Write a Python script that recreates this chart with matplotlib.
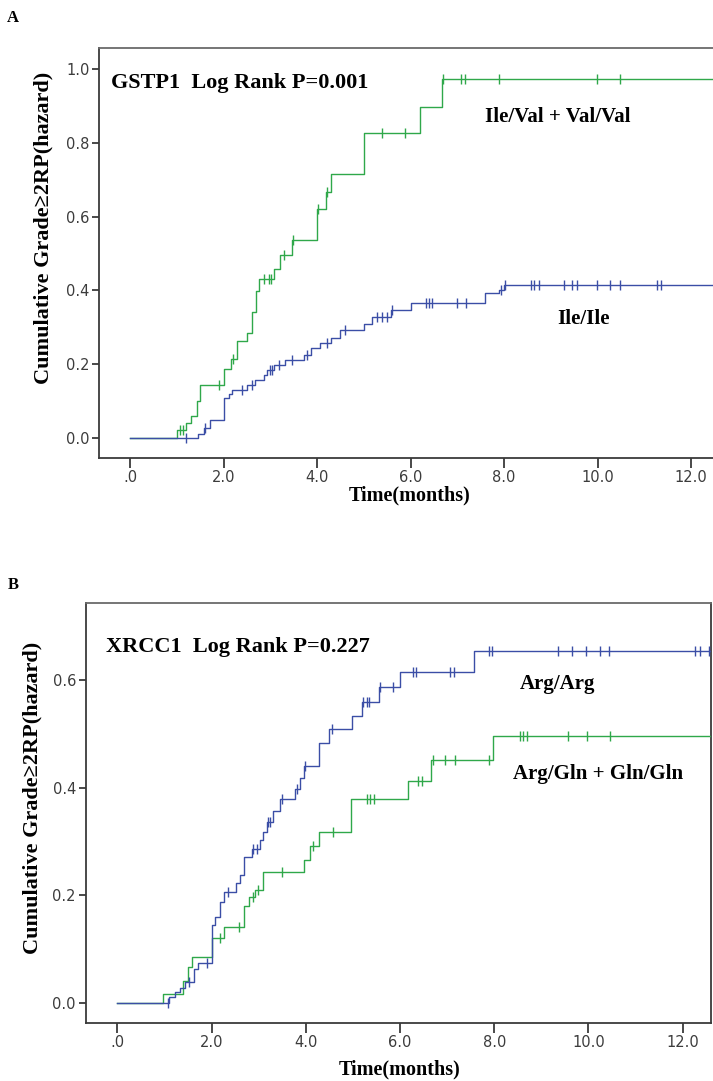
"""
plot.py
Curvas de risco cumulativo (Kaplan-Meier) para GSTP1 e XRCC1
"""

import numpy as np
import matplotlib
matplotlib.use("Agg")
import matplotlib.pyplot as plt

# ---------------------------------------------------------------------------
# Dados
# ---------------------------------------------------------------------------

# Painel A - GSTP1, Ile/Val + Val/Val
gstp1_val_times = [0.0, 1.01, 1.20, 1.30, 1.42, 1.49, 2.00, 2.16, 2.29, 2.50, 2.61,
                   2.69, 2.76, 3.07, 3.21, 3.46, 4.00, 4.18, 4.29, 5.01, 6.20, 6.68]
gstp1_val_cum = [0.0, 0.020, 0.040, 0.059, 0.100, 0.144, 0.188, 0.215, 0.262, 0.285,
                 0.342, 0.399, 0.430, 0.459, 0.496, 0.536, 0.620, 0.668, 0.717, 0.828,
                 0.898, 0.973]
gstp1_val_censored = [1.07, 1.14, 1.89, 2.21, 2.86, 2.98, 3.02, 3.29, 3.48, 4.02, 4.21,
                      5.39, 5.89, 6.70, 7.07, 7.16, 7.89, 9.99, 10.48]

# Painel A - GSTP1, Ile/Ile
gstp1_ile_times = [0.0, 1.45, 1.58, 1.71, 2.00, 2.11, 2.18, 2.50, 2.68, 2.86, 2.93,
                   3.07, 3.32, 3.71, 3.86, 4.07, 4.29, 4.49, 5.00, 5.18, 5.57, 6.00,
                   7.59, 7.90, 8.00]
gstp1_ile_cum = [0.0, 0.011, 0.026, 0.048, 0.107, 0.120, 0.131, 0.143, 0.157, 0.170,
                 0.184, 0.197, 0.211, 0.224, 0.243, 0.256, 0.270, 0.292, 0.309, 0.327,
                 0.347, 0.366, 0.392, 0.402, 0.415]
gstp1_ile_censored = [1.20, 1.61, 2.39, 2.61, 3.00, 3.04, 3.18, 3.46, 3.79, 4.21, 4.59,
                      5.29, 5.39, 5.50, 5.61, 6.32, 6.39, 6.46, 6.99, 7.18, 7.94, 8.02,
                      8.58, 8.65, 8.74, 9.29, 9.46, 9.55, 9.99, 10.27, 10.48, 11.27, 11.36]
gstp1_follow_up_end = 12.6

# Painel B - XRCC1, Arg/Arg
xrcc1_arg_times = [0.0, 1.10, 1.23, 1.33, 1.44, 1.63, 1.72, 2.00, 2.07, 2.17, 2.27,
                   2.52, 2.61, 2.69, 2.85, 3.02, 3.09, 3.17, 3.31, 3.45, 3.77, 3.88,
                   3.96, 4.29, 4.50, 4.98, 5.19, 5.56, 5.99, 7.56]
xrcc1_arg_cum = [0.0, 0.010, 0.019, 0.027, 0.039, 0.062, 0.073, 0.145, 0.160, 0.188,
                 0.205, 0.223, 0.238, 0.271, 0.286, 0.303, 0.318, 0.337, 0.356, 0.379,
                 0.397, 0.418, 0.440, 0.484, 0.509, 0.533, 0.559, 0.587, 0.616, 0.654]
xrcc1_arg_censored = [1.08, 1.53, 1.90, 2.36, 2.89, 2.96, 3.19, 3.25, 3.49, 3.81, 3.98,
                      4.55, 5.22, 5.29, 5.35, 5.58, 5.86, 6.28, 6.34, 7.07, 7.15, 7.88,
                      7.95, 9.36, 9.65, 9.95, 10.25, 10.44, 12.27, 12.36, 12.55]

# Painel B - XRCC1, Arg/Gln + Gln/Gln
xrcc1_gln_times = [0.0, 0.97, 1.40, 1.50, 1.58, 2.00, 2.27, 2.69, 2.80, 2.93, 3.10,
                   3.96, 4.09, 4.29, 4.96, 6.16, 6.66, 7.98]
xrcc1_gln_cum = [0.0, 0.016, 0.040, 0.066, 0.084, 0.121, 0.140, 0.179, 0.197, 0.210,
                 0.244, 0.266, 0.292, 0.318, 0.379, 0.413, 0.451, 0.497]
xrcc1_gln_censored = [2.19, 2.59, 2.87, 2.99, 3.49, 4.16, 4.57, 5.29, 5.37, 5.45, 6.39,
                      6.46, 6.70, 6.96, 7.17, 7.88, 8.55, 8.62, 8.69, 9.57, 9.96, 10.45]
xrcc1_follow_up_end = 12.7

x_ticks = [0, 2, 4, 6, 8, 10, 12]
x_tick_labels = [".0", "2.0", "4.0", "6.0", "8.0", "10.0", "12.0"]

GREEN = "#2fa84a"
BLUE = "#3b4ea6"
SERIF = "Liberation Serif"
TICK_COLOR = "#3c3c3c"


def draw_curve(ax, times, cum, censored, end, color):
    """Desenha a curva em degraus e as marcas de censura."""
    times = np.asarray(times)
    cum = np.asarray(cum)
    ax.step(np.r_[times, end], np.r_[cum, cum[-1]], where="post",
            color=color, lw=1.0, zorder=3)
    # nível da curva em cada tempo censurado
    idx = np.searchsorted(times, censored, side="right") - 1
    ax.plot(censored, cum[idx], linestyle="none", marker="|",
            markersize=7, markeredgewidth=1.0, color=color, zorder=4)


def style_axes(ax, y_ticks, y_labels):
    """Aplica o estilo SPSS aos eixos."""
    for side in ["left", "bottom", "top", "right"]:
        ax.spines[side].set_color("#3a3a3a")
        ax.spines[side].set_linewidth(1.3)
    ax.spines["top"].set_color("#6a6a6a")
    ax.set_xticks(x_ticks)
    ax.set_xticklabels(x_tick_labels)
    ax.set_yticks(y_ticks)
    ax.set_yticklabels(y_labels)
    ax.tick_params(axis="x", length=7, width=1.3, pad=2, colors="#3a3a3a",
                   labelcolor=TICK_COLOR, labelsize=10.5)
    ax.tick_params(axis="y", length=5, width=1.3, pad=2, colors="#3a3a3a",
                   labelcolor=TICK_COLOR, labelsize=10.5)


fig = plt.figure(figsize=(7.13, 10.81), dpi=100)

# ---------------------------------------------------------------------------
# Painel A
# ---------------------------------------------------------------------------
ax_a = fig.add_axes([0.1393, 0.5766, 0.8607, 0.3787])
draw_curve(ax_a, gstp1_val_times, gstp1_val_cum, gstp1_val_censored,
           gstp1_follow_up_end, GREEN)
draw_curve(ax_a, gstp1_ile_times, gstp1_ile_cum, gstp1_ile_censored,
           gstp1_follow_up_end, BLUE)
ax_a.set_xlim(-0.66, 12.47)
ax_a.set_ylim(-0.054, 1.057)
style_axes(ax_a, [0, 0.2, 0.4, 0.6, 0.8, 1.0],
           ["0.0", "0.2", "0.4", "0.6", "0.8", "1.0"])
ax_a.spines["right"].set_visible(False)

ax_a.text(-0.40, 0.963, "GSTP1  Log Rank P=0.001", family=SERIF,
          fontweight="bold", fontsize=16, ha="left", va="center")
ax_a.text(9.15, 0.870, "Ile/Val + Val/Val", family=SERIF, fontweight="bold",
          fontsize=15, ha="center", va="center")
ax_a.text(9.70, 0.322, "Ile/Ile", family=SERIF, fontweight="bold",
          fontsize=15, ha="center", va="center")

# ---------------------------------------------------------------------------
# Painel B
# ---------------------------------------------------------------------------
ax_b = fig.add_axes([0.1202, 0.0537, 0.8770, 0.3885])
draw_curve(ax_b, xrcc1_gln_times, xrcc1_gln_cum, xrcc1_gln_censored,
           xrcc1_follow_up_end, GREEN)
draw_curve(ax_b, xrcc1_arg_times, xrcc1_arg_cum, xrcc1_arg_censored,
           xrcc1_follow_up_end, BLUE)
ax_b.set_xlim(-0.67, 12.6)
ax_b.set_ylim(-0.038, 0.744)
style_axes(ax_b, [0, 0.2, 0.4, 0.6], ["0.0", "0.2", "0.4", "0.6"])

ax_b.text(-0.24, 0.662, "XRCC1  Log Rank P=0.227", family=SERIF,
          fontweight="bold", fontsize=16, ha="left", va="center")
ax_b.text(9.35, 0.593, "Arg/Arg", family=SERIF, fontweight="bold",
          fontsize=15, ha="center", va="center")
ax_b.text(10.2, 0.426, "Arg/Gln + Gln/Gln", family=SERIF, fontweight="bold",
          fontsize=15, ha="center", va="center")

# ---------------------------------------------------------------------------
# Rótulos de eixo e letras dos painéis
# ---------------------------------------------------------------------------
W, H = 713.0, 1081.0
ylabel_kw = dict(family=SERIF, fontweight="bold", fontsize=16)
xlabel_kw = dict(family=SERIF, fontweight="bold", fontsize=14.5)
fig.text(43 / W, 1 - 228 / H, "Cumulative Grade≥2RP(hazard)", rotation=90,
         ha="center", va="center", **ylabel_kw)
fig.text(32 / W, 1 - 798 / H, "Cumulative Grade≥2RP(hazard)", rotation=90,
         ha="center", va="center", **ylabel_kw)
fig.text(410 / W, 1 - 495 / H, "Time(months)", ha="center", va="center", **xlabel_kw)
fig.text(400 / W, 1 - 1069 / H, "Time(months)", ha="center", va="center", **xlabel_kw)
fig.text(13 / W, 1 - 18 / H, "A", family=SERIF, fontweight="bold", fontsize=12,
         ha="center", va="center")
fig.text(13 / W, 1 - 585 / H, "B", family=SERIF, fontweight="bold", fontsize=12,
         ha="center", va="center")

fig.savefig("out.png", dpi=100)
